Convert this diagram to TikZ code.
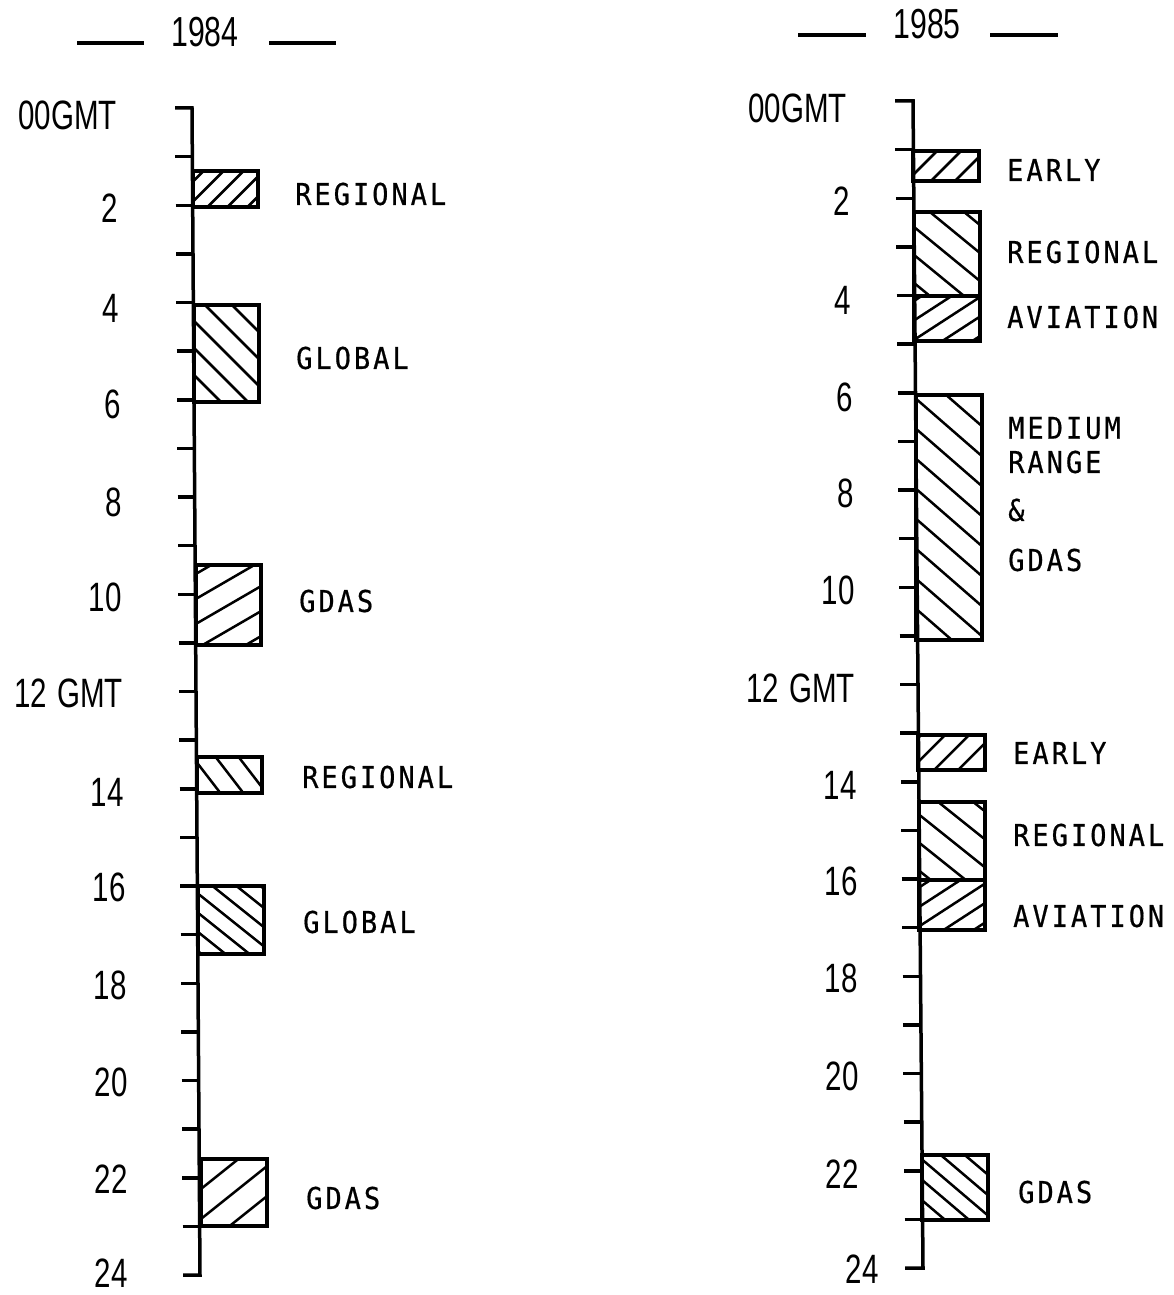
\documentclass[tikz,border=0pt]{standalone}
\usepackage{fontspec}
\newfontfamily\numf[FakeStretch=0.72]{Liberation Sans}
\newfontfamily\labf[FakeStretch=0.9,LetterSpace=10,FakeBold=0.6]{DejaVu Sans Mono}
\newcommand\hatchbox[8]{%
  \begin{scope}
    \clip (#1,#2) rectangle (#3,#4);
    \pgfmathsetmacro\hcx{(#1+#3)/2}
    \pgfmathsetmacro\hcy{(#2+#4)/2}
    \foreach \k in {-14,...,14}
      \draw[hatch] ({\hcx+(\k)*(#7)-200*(#5)},{\hcy+(\k)*(#8)-200*(#6)}) -- ++({400*(#5)},{400*(#6)});
  \end{scope}
  \draw[box] (#1,#2) rectangle (#3,#4);
}
\begin{document}
\begin{tikzpicture}[x=1pt,y=-1pt,
  ax/.style={line width=3.5pt},
  box/.style={line width=3.5pt},
  hatch/.style={line width=2.5pt},
  dashln/.style={line width=3.5pt},
  num/.style={inner sep=0pt,anchor=east,font=\numf\fontsize{41}{43}\selectfont},
  title/.style={inner sep=0pt,font=\numf\fontsize{42}{44}\selectfont},
  lab/.style={inner sep=0pt,anchor=west,font=\labf\fontsize{30}{32}\selectfont}]
\useasboundingbox (0,0) rectangle (1173,1295);

% ---------------- 1984 ----------------
\node[title] (t84) at (205,32) {1984};
\draw[dashln] (77,43) -- (144,43);
\draw[dashln] (269,43) -- (336,43);

\draw[ax] (175,108) -- (192,108) -- (200,1275) -- (183,1275);
\foreach \h in {1,...,23}
  \draw[ax] ({192+\h/3-17},{108+48.625*\h}) -- ++(17,0);

\hatchbox{193}{171}{258}{207}{1}{-1}{20}{0}
\hatchbox{194}{305}{259}{402}{1}{1}{27}{0}
\hatchbox{196}{565}{261}{645}{1}{-0.58}{0}{25}
\hatchbox{197}{757}{262}{793}{1}{1.3}{23}{0}
\hatchbox{198}{886}{264}{954}{1}{0.8}{24}{0}
\hatchbox{201}{1159}{267}{1226}{1}{-0.8}{0}{30}

\node[num] (l0)  at (117,115)  {00GMT};
\node[num] (l2)  at (118,208)  {2};
\node[num] (l4)  at (119,308)  {4};
\node[num] (l6)  at (121,404)  {6};
\node[num] (l8)  at (122,502)  {8};
\node[num] (l10) at (122,597)  {10};
\node[num] (l12) at (123,693)  {12\hspace{10pt}GMT};
\node[num] (l14) at (124,792)  {14};
\node[num] (l16) at (126,887)  {16};
\node[num] (l18) at (127,985)  {18};
\node[num] (l20) at (128,1082) {20};
\node[num] (l22) at (128,1179) {22};
\node[num] (l24) at (128,1273) {24};

\node[lab] (a1) at (295,194)  {REGIONAL};
\node[lab] (a2) at (296,358)  {GLOBAL};
\node[lab] (a3) at (299,601)  {GDAS};
\node[lab] (a4) at (302,777)  {REGIONAL};
\node[lab] (a5) at (303,922)  {GLOBAL};
\node[lab] (a6) at (306,1198) {GDAS};

% ---------------- 1985 ----------------
\node[title] (t85) at (927,24) {1985};
\draw[dashln] (798,35) -- (866,35);
\draw[dashln] (990,35) -- (1058,35);

\draw[ax] (895,101) -- (913,101) -- (923,1268) -- (905,1268);
\foreach \h in {1,...,23}
  \draw[ax] ({913+\h*10/24-18},{101+48.625*\h}) -- ++(18,0);

\hatchbox{913}{151}{979}{181}{1}{-1}{24}{0}
\hatchbox{914}{212}{980}{296}{1}{0.82}{0}{28}
\hatchbox{914}{296}{980}{341}{1}{-0.65}{30}{0}
\hatchbox{916}{395}{982}{640}{1}{0.87}{0}{30}
\hatchbox{918}{735}{985}{770}{1}{-1}{24}{0}
\hatchbox{919}{802}{985}{880}{1}{0.8}{0}{28}
\hatchbox{919}{880}{985}{930}{1}{-0.65}{30}{0}
\hatchbox{922}{1155}{988}{1220}{1}{0.85}{24}{0}

\node[num] (r0)  at (847,108)  {00GMT};
\node[num] (r2)  at (850,201)  {2};
\node[num] (r4)  at (851,300)  {4};
\node[num] (r6)  at (853,397)  {6};
\node[num] (r8)  at (854,493)  {8};
\node[num] (r10) at (855,590)  {10};
\node[num] (r12) at (855,688)  {12\hspace{10pt}GMT};
\node[num] (r14) at (857,785)  {14};
\node[num] (r16) at (858,881)  {16};
\node[num] (r18) at (858,978)  {18};
\node[num] (r20) at (859,1076) {20};
\node[num] (r22) at (859,1174) {22};
\node[num] (r24) at (879,1269) {24};

\node[lab] (b1) at (1007,170)  {EARLY};
\node[lab] (b2) at (1007,252)  {REGIONAL};
\node[lab] (b3) at (1007,317)  {AVIATION};
\node[lab] (b4) at (1008,428)  {MEDIUM};
\node[lab] (b5) at (1008,462)  {RANGE};
\node[lab] (b6) at (1008,510)  {\&};
\node[lab] (b7) at (1008,560)  {GDAS};
\node[lab] (b8) at (1013,753)  {EARLY};
\node[lab] (b9) at (1013,835)  {REGIONAL};
\node[lab] (b10) at (1013,916) {AVIATION};
\node[lab] (b11) at (1018,1192) {GDAS};
\end{tikzpicture}
\end{document}
